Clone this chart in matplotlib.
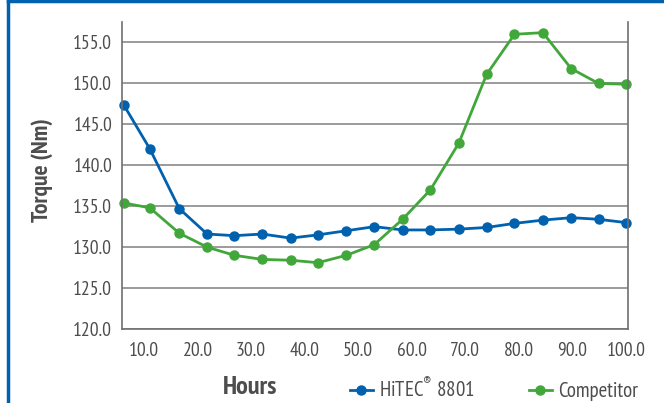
import matplotlib
matplotlib.use("Agg")
import matplotlib.pyplot as plt
from matplotlib.lines import Line2D

plt.rcParams['font.family'] = ['PT Sans Narrow', 'DejaVu Sans']
plt.rcParams['mathtext.fontset'] = 'custom'
plt.rcParams['mathtext.rm'] = 'PT Sans Narrow'

hours = [6.2, 11.1, 16.6, 21.8, 26.9, 32.1, 37.4, 42.5, 47.8, 53.0,
         58.3, 63.5, 68.8, 74.0, 79.2, 84.5, 89.8, 94.9, 100.0]
hitec = [147.4, 142.0, 134.7, 131.6, 131.4, 131.6, 131.1, 131.5, 132.0, 132.5,
         132.1, 132.1, 132.2, 132.4, 132.9, 133.3, 133.6, 133.4, 133.0]
competitor = [135.4, 134.8, 131.7, 130.0, 129.0, 128.5, 128.4, 128.1, 129.0, 130.3,
              133.4, 137.0, 142.7, 151.1, 156.0, 156.2, 151.8, 150.0, 149.9]
xticks = [10, 20, 30, 40, 50, 60, 70, 80, 90, 100]
yticks = [120, 125, 130, 135, 140, 145, 150, 155]

blue = '#0061ae'
green = '#42a73a'
text_gray = '#4d4d4d'

fig = plt.figure(figsize=(6.64, 4.03), dpi=100)
ax = fig.add_axes([122 / 664, 74 / 403, 506 / 664, 307 / 403])

ax.plot(hours, hitec, color=blue, lw=2, marker='o', ms=6.5, label=r'HiTEC$^{\mathrm{®}}$ 8801',
        clip_on=False)
ax.plot(hours, competitor, color=green, lw=2, marker='o', ms=6.5, label='Competitor',
        clip_on=False)

ax.set_xlim(5.9, 100.4)
ax.set_ylim(120, 157.5)
ax.set_xticks(xticks)
ax.set_xticklabels([f'{v:.1f}' for v in xticks])
ax.set_yticks(yticks)
ax.set_yticklabels([f'{v:.1f}' for v in yticks])
ax.tick_params(length=0, labelsize=14, colors=text_gray, pad=7)
ax.tick_params(axis='x', pad=9)

ax.grid(axis='y', color='#8a8a8a', lw=1.2)
ax.set_axisbelow(True)
ax.spines['top'].set_visible(False)
for s in ['left', 'right', 'bottom']:
    ax.spines[s].set_color('#707070')
    ax.spines[s].set_linewidth(1.2)

fig.text(42 / 664, 1 - 170 / 403, 'Torque (Nm)', rotation=90, ha='center', va='center',
         fontsize=17, fontweight='bold', color=text_gray)
fig.text(250 / 664, 1 - 388 / 403, 'Hours', ha='center', va='center',
         fontsize=19, fontweight='bold', color=text_gray)

fig.legend(loc='center', bbox_to_anchor=(494 / 664, 1 - 389 / 403), ncol=2,
           frameon=False, fontsize=15, handlelength=1.1, handletextpad=0.3,
           columnspacing=2.6, labelcolor=text_gray)

# blue frame around the figure
fig.add_artist(Line2D([7.5 / 664, 7.5 / 664], [0, 1], transform=fig.transFigure,
                      color=blue, lw=2.5))
fig.add_artist(Line2D([7.5 / 664, 1], [1 - 1 / 403, 1 - 1 / 403], transform=fig.transFigure,
                      color=blue, lw=2.5))

fig.savefig('out.png', dpi=100)
